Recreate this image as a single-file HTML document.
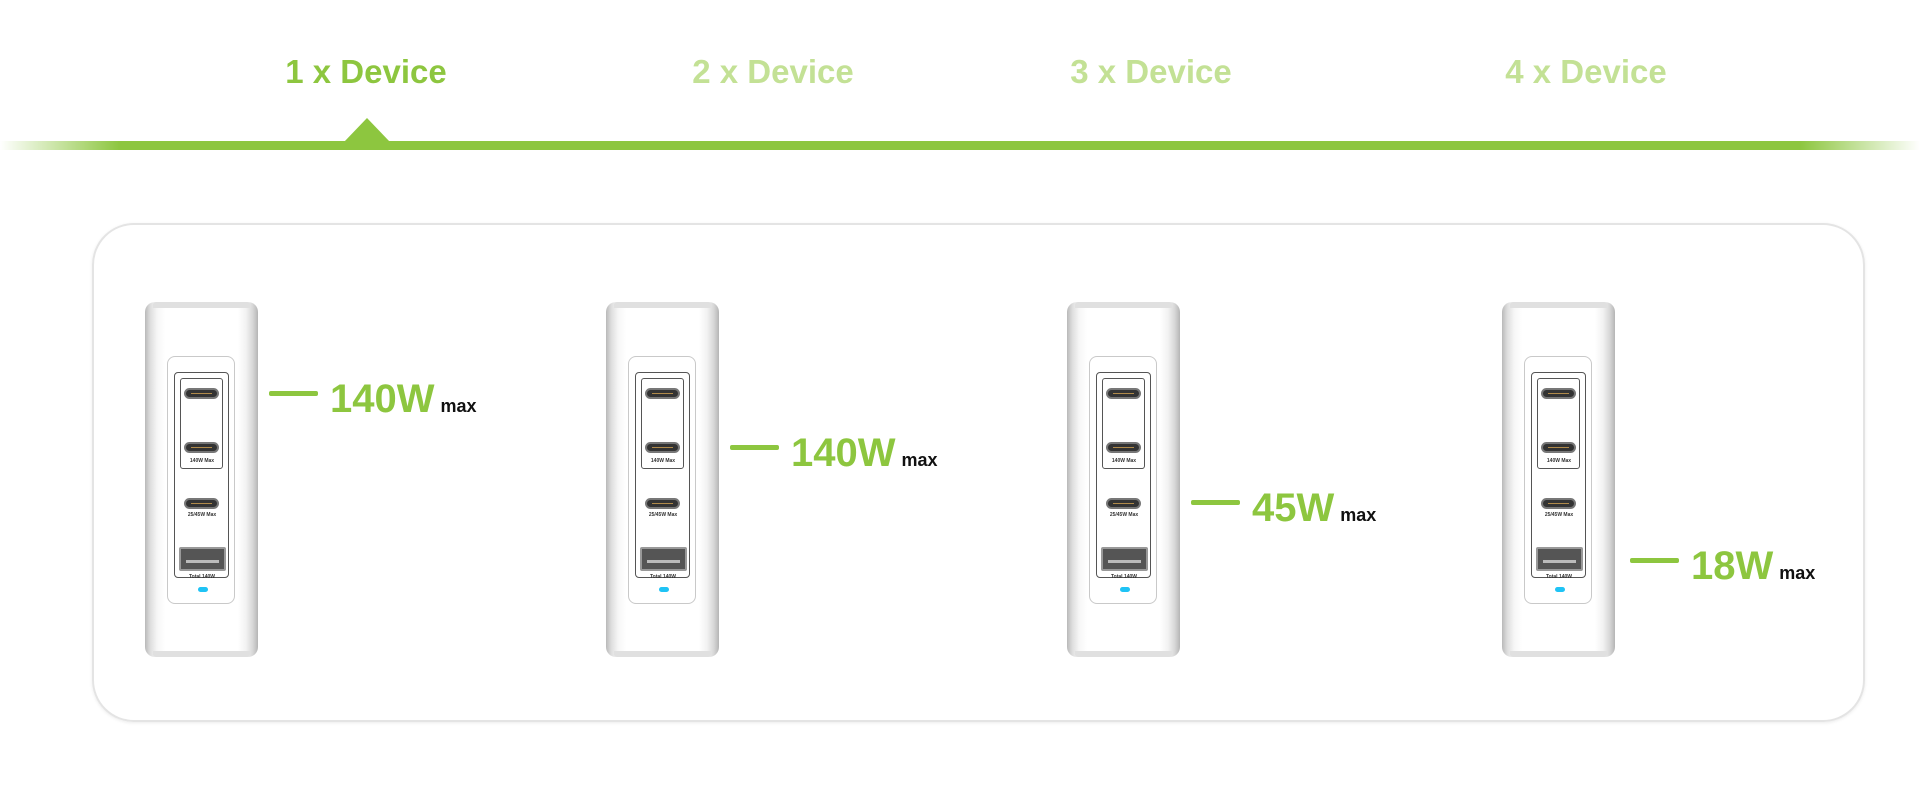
<!DOCTYPE html>
<html><head><meta charset="utf-8"><style>
*{margin:0;padding:0;box-sizing:border-box}
body{width:1920px;height:800px;background:#fff;position:relative;overflow:hidden;font-family:"Liberation Sans",sans-serif}
.tab{position:absolute;top:53px;width:300px;text-align:center;font-weight:bold;font-size:33px;color:#c3e195}
.tab.on{color:#8dc63f}
.bar{position:absolute;left:0;top:141px;width:1920px;height:9px;background:linear-gradient(to right,rgba(141,198,63,0) 0px,#8dc63f 120px,#8dc63f 1800px,rgba(141,198,63,0) 1920px)}
.tri{position:absolute;left:344px;top:118px;width:0;height:0;border-left:23px solid transparent;border-right:23px solid transparent;border-bottom:24px solid #8dc63f}
.panel{position:absolute;left:92px;top:223px;width:1773px;height:499px;border:2px solid #e4e4e4;border-radius:42px;box-shadow:0 1px 3px rgba(0,0,0,.08)}
.dev{position:absolute;top:302px;width:113px;height:355px;border-radius:10px;background:linear-gradient(to right,#b9b9b9 0,#dcdcdc 5px,#f6f6f6 12px,#fff 20px,#fff 93px,#f2f2f2 101px,#d6d6d6 108px,#b5b5b5 113px)}
.dev:before{content:"";position:absolute;left:8px;right:8px;top:0;height:6px;background:#e0e0e0;border-radius:3px 3px 0 0}
.dev:after{content:"";position:absolute;left:8px;right:8px;bottom:0;height:6px;background:#e0e0e0;border-radius:0 0 3px 3px}
.inner{position:absolute;left:22px;top:54px;width:68px;height:248px;border:1px solid #c9c9c9;border-radius:8px;background:#fff}
.frame{position:absolute;left:6px;top:15px;width:55px;height:206px;border:1px solid #555;border-radius:4px}
.sub{position:absolute;left:5px;top:5px;width:43px;height:91px;border:1px solid #555;border-radius:3px}
.c{position:absolute;left:17px;width:35px;height:11px;border-radius:6px;background:#333;border:2px solid #777}
.c:after{content:"";position:absolute;left:5px;right:5px;top:3px;height:1px;background:#b08a4a}
.lbl{position:absolute;left:0;width:68px;text-align:center;font-size:5px;color:#333;font-weight:bold}
.usb{position:absolute;left:11px;top:190px;width:47px;height:24px;background:#555;border:2px solid #999;border-radius:2px}
.usb:after{content:"";position:absolute;left:5px;right:5px;top:11px;height:3px;background:#bbb}
.led{position:absolute;left:30px;top:230px;width:10px;height:5px;border-radius:3px;background:#1fc3f5}
.ln{position:absolute;height:5px;width:49px;background:#8dc63f;border-radius:2px}
.w{position:absolute;font-weight:bold;font-size:40px;color:#8dc63f;white-space:nowrap;line-height:1}
.w span{font-size:18px;color:#111;margin-left:6px}
</style></head><body>
<div class="tab on" style="left:216px">1 x Device</div>
<div class="tab" style="left:623px">2 x Device</div>
<div class="tab" style="left:1001px">3 x Device</div>
<div class="tab" style="left:1436px">4 x Device</div>
<div class="bar"></div><div class="tri"></div>
<div class="panel"></div>

<div class="dev" style="left:145px"><div class="inner"><div class="frame"><div class="sub"></div></div>
<div class="c" style="top:31px;left:16px"></div><div class="c" style="top:85px;left:16px"></div>
<div class="lbl" style="top:101px">140W Max</div>
<div class="c" style="top:141px;left:16px"></div><div class="lbl" style="top:155px">25/45W Max</div>
<div class="usb"></div><div class="lbl" style="top:217px">Total 140W</div><div class="led"></div></div></div>

<div class="dev" style="left:606px"><div class="inner"><div class="frame"><div class="sub"></div></div>
<div class="c" style="top:31px;left:16px"></div><div class="c" style="top:85px;left:16px"></div>
<div class="lbl" style="top:101px">140W Max</div>
<div class="c" style="top:141px;left:16px"></div><div class="lbl" style="top:155px">25/45W Max</div>
<div class="usb"></div><div class="lbl" style="top:217px">Total 140W</div><div class="led"></div></div></div>

<div class="dev" style="left:1067px"><div class="inner"><div class="frame"><div class="sub"></div></div>
<div class="c" style="top:31px;left:16px"></div><div class="c" style="top:85px;left:16px"></div>
<div class="lbl" style="top:101px">140W Max</div>
<div class="c" style="top:141px;left:16px"></div><div class="lbl" style="top:155px">25/45W Max</div>
<div class="usb"></div><div class="lbl" style="top:217px">Total 140W</div><div class="led"></div></div></div>

<div class="dev" style="left:1502px"><div class="inner"><div class="frame"><div class="sub"></div></div>
<div class="c" style="top:31px;left:16px"></div><div class="c" style="top:85px;left:16px"></div>
<div class="lbl" style="top:101px">140W Max</div>
<div class="c" style="top:141px;left:16px"></div><div class="lbl" style="top:155px">25/45W Max</div>
<div class="usb"></div><div class="lbl" style="top:217px">Total 140W</div><div class="led"></div></div></div>

<div class="ln" style="left:269px;top:391px"></div><div class="w" style="left:330px;top:379px">140W<span>max</span></div>
<div class="ln" style="left:730px;top:445px"></div><div class="w" style="left:791px;top:433px">140W<span>max</span></div>
<div class="ln" style="left:1191px;top:500px"></div><div class="w" style="left:1252px;top:488px">45W<span>max</span></div>
<div class="ln" style="left:1630px;top:558px"></div><div class="w" style="left:1691px;top:546px">18W<span>max</span></div>
</body></html>
